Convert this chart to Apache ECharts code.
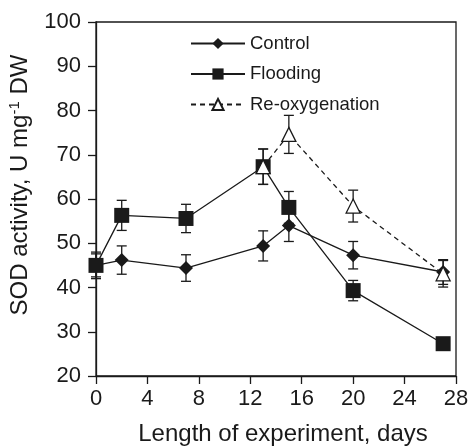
<!DOCTYPE html>
<html>
<head>
<meta charset="utf-8">
<script src="https://cdn.jsdelivr.net/npm/echarts@6/dist/echarts.min.js"></script>
<style>
html,body{margin:0;padding:0;background:#fff;}
#chart{width:472px;height:446px;}
</style>
</head>
<body>
<div id="chart"></div>
<script>
const days = [0, 2, 7, 13, 15, 20, 27];
const controlVals = [45, 46.2, 44.4, 49.4, 54.0, 47.3, 43.5];
const controlErr  = [3.0, 3.2, 3.0, 3.4, 3.6, 3.1, 2.8];
const floodingVals = [45, 56.3, 55.6, 67.3, 58.1, 39.3, 27.3];
const floodingErr  = [2.6, 3.4, 3.2, 4.0, 3.6, 2.3, 1.0];
const reoxDays = [13, 15, 20, 27];
const reoxVals = [67.3, 74.6, 58.4, 43.1];
const reoxErr  = [4.0, 4.3, 3.6, 3.0];
const seriesNames = ['Control', 'Flooding', 'Re-oxygenation'];

const FONT = '"Liberation Sans", Arial, sans-serif';
const INK = '#1a1a1a';

function pts(xs, ys){ return xs.map((x,i)=>[x, ys[i]]); }
function errs(xs, ys, es){ return xs.map((x,i)=>[x, ys[i]-es[i], ys[i]+es[i]]); }

function errRender(params, api){
  const x = api.value(0), lo = api.value(1), hi = api.value(2);
  const p1 = api.coord([x, hi]), p2 = api.coord([x, lo]);
  const w = 5;
  const st = {stroke: INK, lineWidth: 1.3};
  return {type:'group', children:[
    {type:'line', shape:{x1:p1[0], y1:p1[1], x2:p2[0], y2:p2[1]}, style:st},
    {type:'line', shape:{x1:p1[0]-w, y1:p1[1], x2:p1[0]+w, y2:p1[1]}, style:st},
    {type:'line', shape:{x1:p2[0]-w, y1:p2[1], x2:p2[0]+w, y2:p2[1]}, style:st}
  ]};
}

const chart = echarts.init(document.getElementById('chart'), null, {renderer:'canvas'});
chart.setOption({
  animation: false,
  backgroundColor: '#fff',
  textStyle: {fontFamily: FONT},
  grid: {left: 96, right: 16, top: 22, bottom: 70, show: true, borderColor: INK, borderWidth: 1.3,
    backgroundColor: 'transparent', containLabel: false, outerBoundsMode: 'none'},
  legend: {
    data: seriesNames,
    orient: 'vertical',
    left: 185, top: 29,
    itemWidth: 54, itemHeight: 14, itemGap: 11.5,
    textStyle: {fontFamily: FONT, fontSize: 18.5, color: INK},
    inactiveColor: '#999'
  },
  xAxis: {
    type: 'value', min: 0, max: 28, interval: 4,
    name: 'Length of experiment, days', nameLocation: 'middle', nameGap: 46,
    nameTextStyle: {fontFamily: FONT, fontSize: 24, color: INK, padding: [0, 0, 0, 14]},
    axisLine: {show: true, lineStyle: {color: INK, width: 1.3}},
    axisTick: {show: true, inside: false, length: 8, lineStyle: {color: INK, width: 1.3}},
    axisLabel: {fontFamily: FONT, fontSize: 22, color: INK, margin: 12},
    splitLine: {show: false}
  },
  yAxis: {
    type: 'value', min: 20, max: 100, interval: 10,
    name: 'SOD activity, U mg{sup|-1} DW', nameLocation: 'middle', nameGap: 63,
    nameTextStyle: {fontFamily: FONT, fontSize: 24, color: INK, padding: [0, 0, 0, 28],
      rich: {sup: {fontFamily: FONT, fontSize: 15, color: INK, padding: [0, 0, 11, 0]}}},
    axisLine: {show: true, lineStyle: {color: INK, width: 1.3}},
    axisTick: {show: true, inside: false, length: 8, lineStyle: {color: INK, width: 1.3}},
    axisLabel: {fontFamily: FONT, fontSize: 22, color: INK, margin: 15},
    splitLine: {show: false}
  },
  series: [
    {type:'custom', renderItem: errRender, data: errs(days, controlVals, controlErr), z: 1, silent: true},
    {type:'custom', renderItem: errRender, data: errs(days, floodingVals, floodingErr), z: 1, silent: true},
    {type:'custom', renderItem: errRender, data: errs(reoxDays, reoxVals, reoxErr), z: 1, silent: true},
    {name: seriesNames[0], type:'line', data: pts(days, controlVals), symbol:'diamond', symbolSize: 14,
      lineStyle:{color: INK, width: 1.3}, itemStyle:{color: INK}, z: 3},
    {name: seriesNames[1], type:'line', data: pts(days, floodingVals), symbol:'rect', symbolSize: 15,
      lineStyle:{color: INK, width: 1.3}, itemStyle:{color: INK}, z: 4},
    {name: seriesNames[2], type:'line', data: pts(reoxDays, reoxVals), symbol:'triangle', symbolSize: 14,
      lineStyle:{color: INK, width: 1.3, type: [5, 4]}, itemStyle:{color: '#fff', borderColor: INK, borderWidth: 1.3}, z: 5}
  ]
});
</script>
</body>
</html>
